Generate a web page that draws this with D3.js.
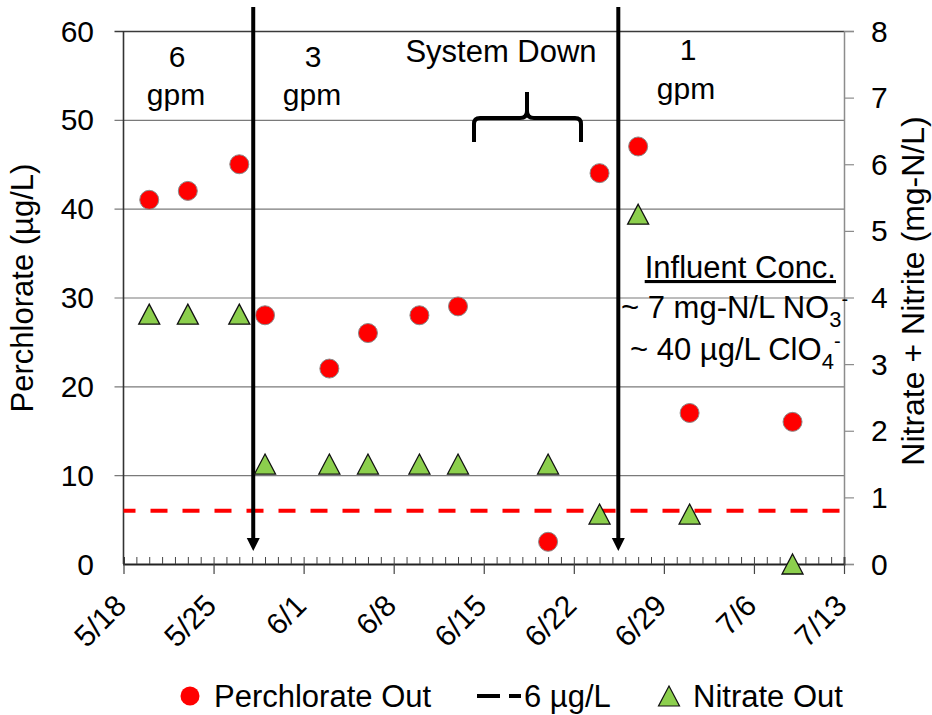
<!DOCTYPE html>
<html><head><meta charset="utf-8">
<script src="https://cdn.jsdelivr.net/npm/d3@7"></script>
<style>
html,body{margin:0;padding:0;background:#fff;}
text{font-family:"Liberation Sans",Arial,sans-serif;fill:#000;}
</style></head>
<body><svg id="chart" width="932" height="715"></svg>
<script>
// ---- data ----
const xTickLabels = ["5/18","5/25","6/1","6/8","6/15","6/22","6/29","7/6","7/13"];
const sampleDates = ["5/20","5/23","5/27","5/29","6/3","6/6","6/10","6/13","6/20","6/24","6/27","7/1","7/9"];
const perchlorateOut = [41,42,45,28,22,26,28,29,2.5,44,47,17,16];
const nitrateOut = [3.75,3.75,3.75,1.5,1.5,1.5,1.5,1.5,1.5,0.75,5.25,0.75,0];
const limitValue = 6;
const leftTicks = [0,10,20,30,40,50,60];
const rightTicks = [0,1,2,3,4,5,6,7,8];
const arrowDates = ["5/28 02","6/25 11"];
const seriesNames = ["Perchlorate Out","6 µg/L","Nitrate Out"];

const parse = d3.timeParse("%m/%d");
const parseH = d3.timeParse("%m/%d %H");
const svg = d3.select("#chart");

const X0 = 123.5, X1 = 844, Y0 = 564, Y1 = 31;
const x = d3.scaleTime().domain([parse(xTickLabels[0]), parse(xTickLabels[xTickLabels.length-1])]).range([X0, X1]);
const yL = d3.scaleLinear().domain([0,60]).range([Y0, Y1]);
const yR = d3.scaleLinear().domain([0,8]).range([Y0, Y1]);

// gridlines (left axis)
const gLeft = svg.append("g").attr("transform", `translate(${X0},0)`)
  .call(d3.axisLeft(yL).tickValues(leftTicks).tickSize(-(X1 - X0)).tickFormat(""));
gLeft.select(".domain").remove();
gLeft.selectAll(".tick line").attr("stroke", "#7a7a7a").attr("stroke-width", 1.2)
  .attr("x1", -9);
gLeft.selectAll(".tick").filter(d => d === 60).select("line").attr("stroke", "#3a3a3a").attr("stroke-width", 1.6);
gLeft.selectAll(".tick").filter(d => d === 0).select("line").attr("stroke", "none");
svg.selectAll(".lt").data(leftTicks).join("text").attr("class","lt")
  .attr("x", 94).attr("y", d => yL(d)).attr("dy", "0.35em")
  .attr("text-anchor", "end").attr("font-size", 30).text(d => d);

// right axis
const gRight = svg.append("g").attr("transform", `translate(${X1},0)`)
  .call(d3.axisRight(yR).tickValues(rightTicks).tickSize(10).tickFormat(""));
gRight.select(".domain").attr("stroke", "#8c8c8c").attr("stroke-width", 1.5);
gRight.selectAll(".tick line").attr("stroke", "#8c8c8c").attr("stroke-width", 1.2);
svg.selectAll(".rt").data(rightTicks).join("text").attr("class","rt")
  .attr("x", 871).attr("y", d => yR(d)).attr("dy", "0.35em")
  .attr("text-anchor", "start").attr("font-size", 30).text(d => d);

// left axis line
svg.append("line").attr("x1", X0).attr("x2", X0).attr("y1", Y1).attr("y2", Y0)
  .attr("stroke", "#333").attr("stroke-width", 1.6);

// x axis: daily minor ticks inward, weekly major ticks outward
const days = d3.timeDay.range(x.domain()[0], d3.timeDay.offset(x.domain()[1], 1));
const gMinor = svg.append("g").attr("transform", `translate(0,${Y0})`)
  .call(d3.axisBottom(x).tickValues(days).tickSize(-7).tickFormat(""));
gMinor.select(".domain").attr("stroke", "#222").attr("stroke-width", 1.8);
gMinor.selectAll(".tick line").attr("stroke", "#444").attr("stroke-width", 1);
const majors = xTickLabels.map(parse);
const gMajor = svg.append("g").attr("transform", `translate(0,${Y0})`)
  .call(d3.axisBottom(x).tickValues(majors).tickSize(10).tickFormat(""));
gMajor.select(".domain").remove();
gMajor.selectAll(".tick line").attr("stroke", "#444").attr("stroke-width", 1.2);
svg.selectAll(".xt").data(xTickLabels).join("text").attr("class","xt")
  .attr("transform", d => `translate(${x(parse(d)) - 3},600) rotate(-45)`)
  .attr("dy", "0.35em").attr("text-anchor", "end").attr("font-size", 30).text(d => d);

// axis titles
svg.append("text").attr("transform", `translate(33,288) rotate(-90)`)
  .attr("text-anchor", "middle").attr("font-size", 31).text("Perchlorate (µg/L)");
svg.append("text").attr("transform", `translate(924,291) rotate(-90)`)
  .attr("text-anchor", "middle").attr("font-size", 32).text("Nitrate + Nitrite (mg-N/L)");

// 6 ug/L limit line
svg.append("line").attr("x1", X0).attr("x2", X1)
  .attr("y1", yL(limitValue)).attr("y2", yL(limitValue))
  .attr("stroke", "#ff0000").attr("stroke-width", 4)
  .attr("stroke-dasharray", "17,15").attr("stroke-dashoffset", 5);

// vertical arrows
arrowDates.forEach(s => {
  const ax = x(parseH(s));
  svg.append("line").attr("x1", ax).attr("x2", ax).attr("y1", 7).attr("y2", 540)
    .attr("stroke", "#000").attr("stroke-width", 4);
  svg.append("path").attr("d", `M${ax-6.5},538 L${ax+6.5},538 L${ax},551 Z`).attr("fill", "#000");
});

// nitrate triangles
const tri = (cx, cy) => `M${cx},${cy-10} L${cx+10.5},${cy+10} L${cx-10.5},${cy+10} Z`;
svg.selectAll(".nit").data(sampleDates.map((d,i) => ({d, v: nitrateOut[i]}))).join("path")
  .attr("class","nit")
  .attr("d", p => tri(x(parse(p.d)), yR(p.v)))
  .attr("fill", "#8ccf4d").attr("stroke", "#111").attr("stroke-width", 1.3);

// perchlorate circles
svg.selectAll(".per").data(sampleDates.map((d,i) => ({d, v: perchlorateOut[i]}))).join("circle")
  .attr("class","per")
  .attr("cx", p => x(parse(p.d))).attr("cy", p => yL(p.v)).attr("r", 9.5)
  .attr("fill", "#ff0000").attr("stroke", "#8a8a8a").attr("stroke-width", 1);

// annotations
const ann = (t, cx, by, size, anchor) => svg.append("text").attr("x", cx).attr("y", by)
  .attr("text-anchor", anchor || "middle").attr("font-size", size || 30).text(t);
ann("6", 177, 67); ann("gpm", 176, 105);
ann("3", 313, 67); ann("gpm", 312, 105);
ann("System Down", 501, 62, 31);
ann("1", 688, 60); ann("gpm", 686, 99);

// brace
svg.append("path")
  .attr("d", "M474,142 V124 Q474,118 480,118 H520 Q527,118 527,111 V92 M527,111 Q527,118 534,118 H575 Q581,118 581,124 V142")
  .attr("fill", "none").attr("stroke", "#000").attr("stroke-width", 4).attr("stroke-linejoin", "round");

// influent box
ann("Influent Conc.", 836, 278, 31, "end").attr("text-decoration", "underline");
const t1 = svg.append("text").attr("x", 621).attr("y", 318).attr("font-size", 31);
t1.append("tspan").text("~ 7 mg-N/L NO");
t1.append("tspan").attr("dy", 9).attr("font-size", 22).text("3");
t1.append("tspan").attr("dy", -21).attr("font-size", 20).text("-");
const t2 = svg.append("text").attr("x", 630).attr("y", 360).attr("font-size", 31);
t2.append("tspan").text("~ 40 µg/L ClO");
t2.append("tspan").attr("dy", 9).attr("font-size", 22).text("4");
t2.append("tspan").attr("dy", -21).attr("font-size", 20).text("-");

// legend
const LY = 696;
svg.append("circle").attr("cx", 190).attr("cy", LY).attr("r", 9.5).attr("fill", "#ff0000");
svg.append("text").attr("x", 214).attr("y", LY).attr("dy", "0.35em").attr("font-size", 31).text(seriesNames[0]);
svg.append("line").attr("x1", 477).attr("x2", 521).attr("y1", LY).attr("y2", LY)
  .attr("stroke", "#000").attr("stroke-width", 4).attr("stroke-dasharray", "23,9");
svg.append("text").attr("x", 524).attr("y", LY).attr("dy", "0.35em").attr("font-size", 31).text(seriesNames[1]);
svg.append("path").attr("d", tri(669, LY)).attr("fill", "#8ccf4d").attr("stroke", "#111").attr("stroke-width", 1.2);
svg.append("text").attr("x", 693).attr("y", LY).attr("dy", "0.35em").attr("font-size", 31).text(seriesNames[2]);
</script></body></html>
